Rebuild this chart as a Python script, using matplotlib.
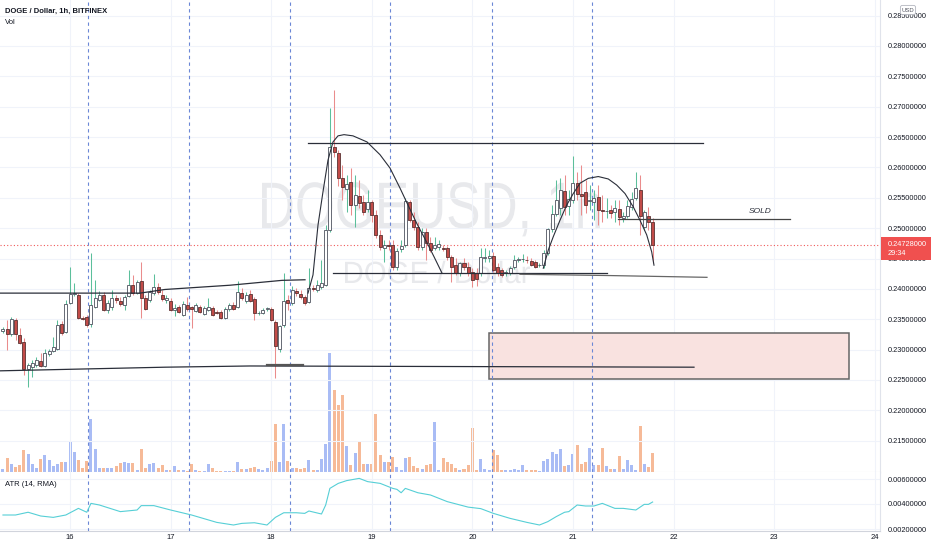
import numpy as np
import matplotlib.pyplot as plt
from matplotlib.patches import Rectangle, FancyBboxPatch, PathPatch
from matplotlib.textpath import TextPath
from matplotlib.font_manager import FontProperties
from matplotlib.transforms import Affine2D

plt.rcParams['font.family'] = ['Liberation Sans', 'DejaVu Sans']

# hourly candles DOGE/USD (Bitfinex), first bar on the 15th at 08:00
t0 = 15 + 8 / 24.0
hour = 1 / 24.0

opens = [0.2331, 0.2334, 0.2326, 0.2349, 0.2324, 0.2313, 0.2268, 0.2271, 0.2275, 0.2281,
         0.2273, 0.2293, 0.2298, 0.2301, 0.2342, 0.2329, 0.2377, 0.2392, 0.2390, 0.2352,
         0.2354, 0.2342, 0.2370, 0.2382, 0.2390, 0.2365, 0.2370, 0.2385, 0.2380, 0.2373,
         0.2388, 0.2406, 0.2393, 0.2413, 0.2385, 0.2382, 0.2393, 0.2403, 0.2390, 0.2382,
         0.2380, 0.2365, 0.2370, 0.2357, 0.2373, 0.2370, 0.2364, 0.2370, 0.2359, 0.2365,
         0.2369, 0.2362, 0.2362, 0.2352, 0.2367, 0.2373, 0.2370, 0.2393, 0.2380, 0.2392,
         0.2383, 0.2360, 0.2360, 0.2367, 0.2367, 0.2345, 0.2301, 0.2340, 0.2382, 0.2377,
         0.2397, 0.2392, 0.2387, 0.2378, 0.2401, 0.2398, 0.2403, 0.2406, 0.2497, 0.2634,
         0.2624, 0.2583, 0.2564, 0.2576, 0.2538, 0.2553, 0.2543, 0.2532, 0.2543, 0.2522,
         0.2489, 0.2467, 0.2472, 0.2472, 0.2436, 0.2466, 0.2472, 0.2543, 0.2513, 0.2502,
         0.2469, 0.2494, 0.2476, 0.2467, 0.2469, 0.2467, 0.2467, 0.2452, 0.2439, 0.2426,
         0.2443, 0.2436, 0.2428, 0.2426, 0.2426, 0.2451, 0.2451, 0.2454, 0.2436, 0.2431,
         0.2426, 0.2426, 0.2436, 0.2448, 0.2449, 0.2448, 0.2446, 0.2444, 0.2439, 0.2439,
         0.2459, 0.2499, 0.2523, 0.2533, 0.2561, 0.2536, 0.2546, 0.2574, 0.2556, 0.2559,
         0.2545, 0.2543, 0.2551, 0.2530, 0.2528, 0.2530, 0.2527, 0.2532, 0.2517, 0.2520,
         0.2535, 0.2550, 0.2563, 0.2502, 0.2520, 0.2510]
highs = [0.2337, 0.2349, 0.2354, 0.2352, 0.2336, 0.2319, 0.2278, 0.2283, 0.2288, 0.2294,
         0.2301, 0.2301, 0.2321, 0.2349, 0.2347, 0.2382, 0.2436, 0.2410, 0.2393, 0.2355,
         0.2357, 0.2459, 0.2415, 0.2396, 0.2395, 0.2382, 0.2398, 0.2390, 0.2387, 0.2390,
         0.2431, 0.2423, 0.2415, 0.2444, 0.2390, 0.2398, 0.2425, 0.2410, 0.2398, 0.2390,
         0.2385, 0.2375, 0.2373, 0.2380, 0.2387, 0.2372, 0.2377, 0.2373, 0.2372, 0.2385,
         0.2372, 0.2365, 0.2365, 0.2370, 0.2377, 0.2378, 0.2413, 0.2401, 0.2395, 0.2398,
         0.2387, 0.2364, 0.2369, 0.2370, 0.2370, 0.2349, 0.2340, 0.2426, 0.2390, 0.2405,
         0.2401, 0.2398, 0.2390, 0.2434, 0.2406, 0.2415, 0.2448, 0.2505, 0.2698, 0.2728,
         0.2629, 0.2604, 0.2588, 0.2599, 0.2588, 0.2579, 0.2555, 0.2563, 0.2546, 0.2530,
         0.2497, 0.2480, 0.2480, 0.2480, 0.2467, 0.2480, 0.2550, 0.2546, 0.2527, 0.2510,
         0.2500, 0.2500, 0.2485, 0.2485, 0.2480, 0.2472, 0.2471, 0.2456, 0.2451, 0.2444,
         0.2451, 0.2444, 0.2434, 0.2434, 0.2467, 0.2467, 0.2464, 0.2461, 0.2443, 0.2434,
         0.2431, 0.2438, 0.2456, 0.2453, 0.2457, 0.2454, 0.2451, 0.2448, 0.2443, 0.2464,
         0.2500, 0.2538, 0.2579, 0.2583, 0.2588, 0.2563, 0.2619, 0.2592, 0.2604, 0.2579,
         0.2571, 0.2563, 0.2571, 0.2555, 0.2550, 0.2538, 0.2546, 0.2546, 0.2527, 0.2546,
         0.2560, 0.2592, 0.2588, 0.2530, 0.2535, 0.2517]
lows = [0.2327, 0.2299, 0.2322, 0.2316, 0.2309, 0.2258, 0.2238, 0.2255, 0.2271, 0.2271,
        0.2271, 0.2289, 0.2296, 0.2299, 0.2324, 0.2327, 0.2375, 0.2388, 0.2350, 0.2349,
        0.2337, 0.2337, 0.2368, 0.2380, 0.2364, 0.2360, 0.2365, 0.2377, 0.2372, 0.2365,
        0.2387, 0.2390, 0.2392, 0.2352, 0.2365, 0.2378, 0.2390, 0.2392, 0.2380, 0.2377,
        0.2364, 0.2355, 0.2360, 0.2355, 0.2364, 0.2336, 0.2362, 0.2360, 0.2357, 0.2364,
        0.2355, 0.2359, 0.2350, 0.2350, 0.2364, 0.2365, 0.2368, 0.2382, 0.2377, 0.2378,
        0.2349, 0.2357, 0.2359, 0.2364, 0.2347, 0.2253, 0.2296, 0.2337, 0.2365, 0.2373,
        0.2388, 0.2383, 0.2373, 0.2377, 0.2397, 0.2395, 0.2400, 0.2405, 0.2494, 0.2617,
        0.2570, 0.2546, 0.2527, 0.2522, 0.2502, 0.2533, 0.2522, 0.2527, 0.2510, 0.2484,
        0.2464, 0.2444, 0.2464, 0.2431, 0.2431, 0.2461, 0.2469, 0.2510, 0.2497, 0.2464,
        0.2464, 0.2448, 0.2461, 0.2464, 0.2464, 0.2462, 0.2448, 0.2411, 0.2423, 0.2421,
        0.2431, 0.2421, 0.2403, 0.2405, 0.2421, 0.2444, 0.2444, 0.2428, 0.2421, 0.2420,
        0.2421, 0.2423, 0.2433, 0.2444, 0.2444, 0.2443, 0.2438, 0.2434, 0.2436, 0.2434,
        0.2456, 0.2494, 0.2520, 0.2522, 0.2522, 0.2522, 0.2541, 0.2546, 0.2522, 0.2525,
        0.2530, 0.2513, 0.2505, 0.2510, 0.2517, 0.2517, 0.2510, 0.2505, 0.2510, 0.2517,
        0.2530, 0.2546, 0.2489, 0.2497, 0.2497, 0.2443]
closes = [0.2334, 0.2326, 0.2350, 0.2326, 0.2311, 0.2268, 0.2275, 0.2278, 0.2283, 0.2273,
          0.2294, 0.2298, 0.2304, 0.2340, 0.2327, 0.2375, 0.2392, 0.2393, 0.2352, 0.2350,
          0.2340, 0.2373, 0.2385, 0.2390, 0.2365, 0.2377, 0.2385, 0.2382, 0.2375, 0.2387,
          0.2406, 0.2393, 0.2411, 0.2385, 0.2367, 0.2395, 0.2403, 0.2395, 0.2383, 0.2385,
          0.2365, 0.2369, 0.2362, 0.2375, 0.2367, 0.2367, 0.2373, 0.2362, 0.2369, 0.2370,
          0.2357, 0.2361, 0.2352, 0.2367, 0.2373, 0.2367, 0.2395, 0.2385, 0.2390, 0.2380,
          0.2360, 0.2361, 0.2365, 0.2368, 0.2349, 0.2306, 0.2339, 0.2380, 0.2377, 0.2398,
          0.2393, 0.2387, 0.2377, 0.2401, 0.2400, 0.2406, 0.2410, 0.2497, 0.2634, 0.2625,
          0.2583, 0.2568, 0.2573, 0.2538, 0.2555, 0.2541, 0.2527, 0.2543, 0.2522, 0.2489,
          0.2469, 0.2472, 0.2471, 0.2436, 0.2462, 0.2471, 0.2545, 0.2513, 0.2502, 0.2469,
          0.2494, 0.2476, 0.2464, 0.2472, 0.2474, 0.2466, 0.2452, 0.2436, 0.2426, 0.2443,
          0.2436, 0.2426, 0.2415, 0.2416, 0.2452, 0.2452, 0.2454, 0.2431, 0.2426, 0.2423,
          0.2428, 0.2434, 0.2448, 0.2449, 0.2450, 0.2447, 0.2439, 0.2436, 0.2440, 0.2459,
          0.2499, 0.2523, 0.2546, 0.2563, 0.2535, 0.2548, 0.2574, 0.2556, 0.2553, 0.2538,
          0.2546, 0.2550, 0.2530, 0.2529, 0.2529, 0.2525, 0.2533, 0.2518, 0.2520, 0.2536,
          0.2548, 0.2566, 0.2520, 0.2527, 0.2510, 0.24728]
# volume, relative units
volume = [3.3, 14, 7.7, 5, 7.3, 22.3, 18.3, 7.7, 4, 13.3,
          17.3, 11.7, 5.7, 7.7, 10, 10, 30, 19.7, 11.7, 4,
          10.7, 53.3, 22.7, 4.3, 4.3, 4.3, 4.3, 5.7, 9, 10,
          9, 9.3, 1.7, 22.7, 4, 7.7, 9.3, 4.3, 6.7, 2.3,
          2.3, 5.7, 1.7, 1.7, 1, 7.7, 2.3, 1, 1, 7.7,
          4, 1, 1, 1, 1, 1, 10, 3.3, 3.3, 4.3,
          5, 3.3, 2.3, 4.3, 10.7, 47.7, 10, 48.3, 10.7, 4.3,
          4.3, 3.3, 4, 11.7, 2.3, 1.7, 13.3, 28.3, 119, 81.7,
          66.7, 76.7, 26, 6.7, 19, 30, 8.3, 8.3, 8.3, 58.3,
          16.7, 10, 10, 15, 5, 2.3, 14.3, 15, 5.7, 4.3,
          3.3, 7.3, 7.7, 50, 2.3, 14, 10, 8.3, 4.3, 2.3,
          3.3, 6.7, 44.3, 2.3, 13.3, 3.3, 1.7, 21.7, 16.7, 2.3,
          2.3, 2.3, 3.3, 2.3, 7.3, 2.3, 2.3, 1.7, 1, 10.7,
          12.7, 20, 18.3, 22.7, 5.7, 7.3, 18.3, 26.7, 7.7, 10,
          24, 7.3, 6.7, 24, 5.7, 3.3, 3.3, 15.7, 3.3, 11.7,
          7.3, 2.3, 46, 7.7, 5, 19]

# ATR(14, RMA) read at these bar numbers
atr_bar = [0, 3, 6, 9, 12, 15, 18, 20, 21, 23, 28, 32, 33, 36, 40, 45, 51, 55, 57, 60,
           63, 65, 67, 70, 72, 73, 76, 77, 78, 80, 82, 85, 87, 90, 93, 94, 95, 96, 99, 102,
           106, 111, 114, 117, 121, 125, 128, 130, 132, 134, 135, 137, 139, 141, 143, 146,
           148, 151, 153, 154, 155]
atr_val = [0.00312, 0.00312, 0.00334, 0.00304, 0.00293, 0.00312, 0.00365, 0.00334, 0.00405,
           0.00392, 0.00339, 0.00352, 0.00387, 0.00387, 0.00352, 0.00312, 0.00253, 0.00232,
           0.00245, 0.00250, 0.00232, 0.00293, 0.00330, 0.00330, 0.00325, 0.00344, 0.00320,
           0.00392, 0.00525, 0.00565, 0.00587, 0.00605, 0.00579, 0.00565, 0.00525, 0.00517,
           0.00490, 0.00525, 0.00490, 0.00472, 0.00419, 0.00375, 0.00363, 0.00325, 0.00285,
           0.00253, 0.00232, 0.00259, 0.00299, 0.00334, 0.00339, 0.00392, 0.00384, 0.00384,
           0.00405, 0.00365, 0.00365, 0.00352, 0.00397, 0.00397, 0.00416]

last_price = 0.24728
countdown = '29:34'

price_ticks = [0.215, 0.22, 0.225, 0.23, 0.235, 0.24, 0.245, 0.25, 0.255, 0.26,
               0.265, 0.27, 0.275, 0.28, 0.285]
atr_ticks = [0.002, 0.004, 0.006]
day_ticks = [16, 17, 18, 19, 20, 21, 22, 23, 24]
session_lines = [16.18, 17.18, 18.19, 19.18, 20.19, 21.19]

# drawings on the chart, (day, price)
ma_t = [15.304, 16.696, 16.944, 17.590, 18.107, 18.336]
ma_p = [0.2393, 0.2393, 0.2399, 0.2406, 0.2414, 0.2415]
low_t = [15.304, 16.944, 17.789, 22.203]
low_p = [0.2265, 0.2271, 0.2273, 0.2271]
top_t = [18.366, 22.292]
top_p = [0.2640, 0.2640]
sup_t = [18.614, 21.338]
sup_p = [0.2426, 0.2426]
sup2_t = [20.473, 21.338, 22.332]
sup2_p = [0.2424, 0.2422, 0.2419]
sold_t = [21.447, 23.157]
sold_p = [0.2515, 0.2515]
arc1_t = [18.3658, 18.4155, 18.4652, 18.5149, 18.5646, 18.6143, 18.6640, 18.7237, 18.8131,
          18.9523, 19.0815, 19.1809, 19.2803, 19.3598, 19.4493, 19.5487, 19.6183, 19.6978]
arc1_p = [0.2393, 0.2423, 0.2505, 0.2560, 0.2612, 0.2642, 0.2652, 0.2654, 0.2652,
          0.2642, 0.2621, 0.2599, 0.2566, 0.2538, 0.2507, 0.2476, 0.2453, 0.2426]
arc2_t = [20.7048, 20.7545, 20.8042, 20.8708, 20.9374, 21.0030, 21.0696, 21.1521, 21.2515,
          21.3509, 21.4344, 21.5169, 21.5994, 21.6660, 21.7326, 21.7823, 21.8052]
arc2_p = [0.2434, 0.2464, 0.2486, 0.2513, 0.2538, 0.2557, 0.2574, 0.2582, 0.2585,
          0.2581, 0.2571, 0.2557, 0.2535, 0.2513, 0.2489, 0.2461, 0.2439]
box_t = [20.165, 23.744]
box_p = [0.2251, 0.2328]

o = np.array(opens)
h = np.array(highs)
l = np.array(lows)
c = np.array(closes)
t = t0 + np.arange(len(c)) * hour
up = c >= o

W, H = 932, 550
fig = plt.figure(figsize=(W / 100, H / 100), dpi=100)

def rect(x0, y0, x1, y1):
    return [x0 / W, 1 - y1 / H, (x1 - x0) / W, (y1 - y0) / H]

pane_r, main_bot, atr_bot = 880, 472, 531

bg = fig.add_axes([0, 0, 1, 1], zorder=0)
bg.set_xlim(0, W)
bg.set_ylim(H, 0)
bg.axis('off')
vax = fig.add_axes(rect(0, 0, pane_r, main_bot), zorder=1)
ax = fig.add_axes(rect(0, 0, pane_r, main_bot), zorder=2)
aax = fig.add_axes(rect(0, main_bot, pane_r, atr_bot), zorder=2)
fg = fig.add_axes([0, 0, 1, 1], zorder=5)
fg.set_xlim(0, W)
fg.set_ylim(H, 0)
fg.axis('off')

xlim = (15.304, 24.052)

# watermark
def watermark(text, x0, x1, base, cap, color):
    tp = TextPath((0, 0), text, size=1, prop=FontProperties(family='Liberation Sans'))
    ext = tp.get_extents()
    sx = (x1 - x0) / ext.width
    sy = cap / 0.716
    tr = Affine2D().translate(-ext.x0, 0).scale(sx, -sy).translate(x0, base)
    bg.add_patch(PathPatch(tr.transform_path(tp), facecolor=color, edgecolor='none'))

watermark('DOGEUSD, 1h', 262, 600, 228, 47, '#e8e9ec')
watermark('DOGE / Dollar', 345, 530, 283, 22, '#e8e9ec')

# volume overlay
vol_col = np.where(up, '#a9bcf5', '#f6ba98')
vax.bar(t, volume, width=0.72 * hour, color=vol_col, linewidth=0)
vax.set_xlim(xlim)
vax.set_ylim(0, max(volume) / 0.252)
vax.axis('off')

# main pane
ax.set_facecolor('none')
ax.set_xlim(xlim)
ax.set_ylim(0.209838, 0.287576)
for d in day_ticks:
    ax.axvline(d, color='#f0f3fa', lw=0.8, zorder=0)
for p in price_ticks:
    ax.axhline(p, color='#f0f3fa', lw=0.8, zorder=0)

ax.vlines(t[up], l[up], h[up], color='#5cbf9b', lw=0.75, zorder=3)
ax.vlines(t[~up], l[~up], h[~up], color='#ea8c8c', lw=0.75, zorder=3)
body_lo = np.minimum(o, c)
body_h = np.maximum(np.abs(c - o), 0.00004)
ax.bar(t[up], body_h[up], bottom=body_lo[up], width=0.72 * hour, facecolor='white',
       edgecolor='#4e525e', lw=0.6, zorder=4)
ax.bar(t[~up], body_h[~up], bottom=body_lo[~up], width=0.72 * hour, facecolor='#c24b48',
       edgecolor='#5a3232', lw=0.6, zorder=4)

ax.axhline(last_price, color='#f05a5a', lw=0.8, ls=(0, (1, 2)), zorder=2)

lc = '#2a2e39'
ax.plot(ma_t, ma_p, color=lc, lw=0.9, zorder=5)
ax.plot(low_t, low_p, color=lc, lw=0.9, zorder=5)
ax.plot([17.958, 18.316], [0.2274, 0.2274], color='#555', lw=1.6, zorder=5)
ax.plot(top_t, top_p, color=lc, lw=0.9, zorder=5)
ax.plot(sup_t, sup_p, color=lc, lw=0.9, zorder=5)
ax.plot(sup2_t, sup2_p, color='#666', lw=0.9, zorder=5)
ax.plot(sold_t, sold_p, color='#444', lw=0.9, zorder=5)
ax.plot(arc1_t, arc1_p, color=lc, lw=0.8, zorder=5)
ax.plot(arc2_t, arc2_p, color=lc, lw=0.8, zorder=5)
ax.text(22.86, 0.2527, 'SOLD', fontsize=6, style='italic', color='#2a2e39',
        ha='center', va='center', zorder=5)
ax.add_patch(Rectangle((box_t[0], box_p[0]), box_t[1] - box_t[0], box_p[1] - box_p[0],
                       facecolor='#f9e2e0', edgecolor='#666666', lw=1.1, zorder=1))

for s in session_lines:
    ax.axvline(s, color='#6b87d6', lw=0.8, ls=(0, (3, 3)), zorder=2)
    aax.axvline(s, color='#6b87d6', lw=0.8, ls=(0, (3, 3)), zorder=2)

ax.yaxis.tick_right()
ax.set_yticks(price_ticks)
ax.set_yticklabels(['%.8f' % p for p in price_ticks])
ax.tick_params(axis='y', length=0, pad=5.8, labelsize=5.3, labelcolor='#131722')
ax.tick_params(axis='x', length=0, labelbottom=False)
for side in ['top', 'left']:
    ax.spines[side].set_visible(False)
ax.spines['right'].set_color('#e0e3eb')
ax.spines['bottom'].set_color('#e0e3eb')

# ATR pane
aax.set_xlim(xlim)
aax.set_ylim(0.00184, 0.00656)
for d in day_ticks:
    aax.axvline(d, color='#f0f3fa', lw=0.8, zorder=0)
for p in atr_ticks:
    aax.axhline(p, color='#f0f3fa', lw=0.8, zorder=0)
aax.plot(t0 + np.array(atr_bar) * hour, atr_val, color='#56cfd6', lw=0.8, zorder=3)
aax.yaxis.tick_right()
aax.set_yticks(atr_ticks)
aax.set_yticklabels(['%.8f' % p for p in atr_ticks])
aax.tick_params(axis='y', length=0, pad=5.8, labelsize=5.3, labelcolor='#131722')
aax.set_xticks(day_ticks)
aax.set_xticklabels([str(d) for d in day_ticks])
aax.tick_params(axis='x', length=0, pad=2.5, labelsize=5.5, labelcolor='#131722')
for side in ['top', 'left']:
    aax.spines[side].set_visible(False)
aax.spines['right'].set_color('#e0e3eb')
aax.spines['bottom'].set_color('#d1d4dc')

# legends and labels
fg.text(5, 11, 'DOGE / Dollar, 1h, BITFINEX', fontsize=5.5, weight='bold',
        color='#131722', va='center')
fg.text(5, 22, 'Vol', fontsize=5.5, color='#131722', va='center')
fg.text(5, 484, 'ATR (14, RMA)', fontsize=5.5, color='#131722', va='center')

fg.add_patch(Rectangle((881, 237), 50, 23, facecolor='#f0504f', edgecolor='none'))
fg.text(888, 244, '%.8f' % last_price, fontsize=5.3, color='white', va='center')
fg.text(888, 253.5, countdown, fontsize=5.3, color='white', va='center')

fg.add_patch(FancyBboxPatch((901, 6), 14, 8, boxstyle='round,pad=0.6,rounding_size=2',
                            facecolor='white', edgecolor='#b2b5be', lw=0.6))
fg.text(908, 10.2, 'USD', fontsize=4.2, color='#50535e', ha='center', va='center')

fig.savefig('out.png', dpi=100, facecolor='white')
